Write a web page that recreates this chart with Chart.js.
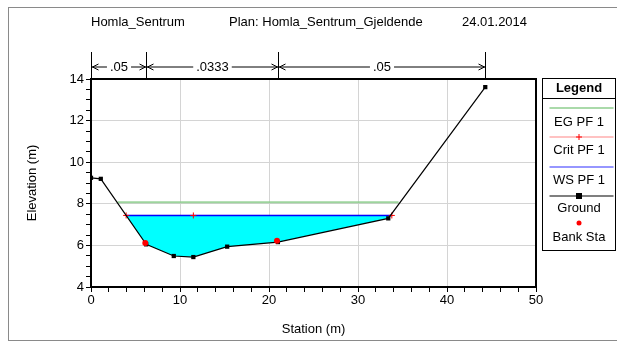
<!DOCTYPE html>
<html>
<head>
<meta charset="UTF-8">
<title>Homla_Sentrum</title>
<script src="https://cdn.jsdelivr.net/npm/chart.js"></script>
<style>
    body { margin: 0; background: #fff; }
</style>
</head>
<body>
<canvas id="chart" width="617" height="343"></canvas>
<script>
// ground profile (station, elevation)
const groundSta = [0, 1.1, 6.2, 9.3, 11.5, 15.3, 21.0, 33.4, 44.3];
const groundElev = [9.25, 9.2, 6.05, 5.49, 5.44, 5.94, 6.16, 7.30, 13.61];
// bank stations
const bankSta = [6.1, 20.9];
const bankElev = [6.12, 6.22];
// water surface, critical depth, energy grade
const wsSta = [3.95, 33.8];
const wsElev = 7.44;
const critSta = [3.95, 11.5, 33.8];
const critElev = 7.44;
const egSta = [2.98, 34.56];
const egElev = 8.08;
// manning's n bar
const nBreaks = [0, 6.2, 21.0, 44.3];
const nValues = ['.05', '.0333', '.05'];
// tick labels
const xLabels = [0, 10, 20, 30, 40, 50];
const yLabels = [4, 6, 8, 10, 12, 14];

const FONT = '"Liberation Sans", Arial, sans-serif';

const pts = (xs, ys) => xs.map((x, i) => ({x: x, y: Array.isArray(ys) ? ys[i] : ys}));

// cyan water polygon: WS line back along the ground
const water = [{x: wsSta[0], y: wsElev}];
groundSta.forEach((s, i) => {
    if (s > wsSta[0] && s < wsSta[1]) water.push({x: s, y: groundElev[i]});
});
water.push({x: wsSta[1], y: wsElev});
water.push({x: wsSta[0], y: wsElev});

function arrow(c, x, y, dir) {
    c.beginPath();
    c.moveTo(x, y);
    c.lineTo(x - dir * 6, y - 3);
    c.moveTo(x, y);
    c.lineTo(x - dir * 6, y + 3);
    c.stroke();
}

const decor = {
    id: 'decor',
    afterDraw(chart) {
        const c = chart.ctx, a = chart.chartArea, sx = chart.scales.x;
        c.save();

        // outer frame
        c.strokeStyle = '#8a8a8a';
        c.lineWidth = 1;
        c.strokeRect(8.5, 7.5, 620, 333);

        // plot border
        c.strokeStyle = '#000';
        c.lineWidth = 2;
        c.strokeRect(a.left, a.top, a.right - a.left, a.bottom - a.top);

        // title
        c.fillStyle = '#000';
        c.font = '13px ' + FONT;
        c.textBaseline = 'middle';
        c.textAlign = 'left';
        c.fillText('Homla_Sentrum', 91, 22);
        c.fillText('Plan: Homla_Sentrum_Gjeldende', 229, 22);
        c.fillText('24.01.2014', 462, 22);

        // axis titles
        c.textAlign = 'center';
        c.fillText('Station (m)', (a.left + a.right) / 2, 329);
        c.save();
        c.translate(32, 183);
        c.rotate(-Math.PI / 2);
        c.fillText('Elevation (m)', 0, 0);
        c.restore();

        // manning's n bar
        c.lineWidth = 1;
        const ny = 67;
        const bx = nBreaks.map(v => Math.round(sx.getPixelForValue(v)) + 0.5);
        bx.forEach(px => {
            c.beginPath();
            c.moveTo(px, 52);
            c.lineTo(px, a.top);
            c.stroke();
        });
        for (let i = 0; i < nValues.length; i++) {
            const l = bx[i], r = bx[i + 1], m = (l + r) / 2;
            const w = c.measureText(nValues[i]).width / 2 + 3;
            c.beginPath();
            c.moveTo(l, ny);
            c.lineTo(m - w, ny);
            c.moveTo(m + w, ny);
            c.lineTo(r, ny);
            c.stroke();
            arrow(c, l + 1, ny, -1);
            arrow(c, r - 1, ny, 1);
            c.fillText(nValues[i], m, ny);
        }

        // legend box
        const lx = 542.5, rx = 615.5, cx = 579;
        c.strokeStyle = '#000';
        c.lineWidth = 1;
        c.strokeRect(lx, 78.5, rx - lx, 172);
        c.beginPath();
        c.moveTo(lx, 98.5);
        c.lineTo(rx, 98.5);
        c.stroke();
        c.font = 'bold 13px ' + FONT;
        c.fillText('Legend', cx, 88);
        c.font = '13px ' + FONT;

        const items = [
            {label: 'EG PF 1', color: 'rgba(130,200,130,0.9)', ly: 108, ty: 122, mark: null},
            {label: 'Crit PF 1', color: 'rgba(255,140,140,0.7)', ly: 137, ty: 150, mark: 'cross'},
            {label: 'WS PF 1', color: 'rgba(100,100,255,0.9)', ly: 167, ty: 180, mark: null},
            {label: 'Ground', color: '#555', ly: 196, ty: 208, mark: 'rect'},
            {label: 'Bank Sta', color: null, ly: 223, ty: 237, mark: 'dot'}
        ];
        items.forEach(it => {
            if (it.color) {
                c.strokeStyle = it.color;
                c.lineWidth = 1.5;
                c.beginPath();
                c.moveTo(lx + 7, it.ly);
                c.lineTo(rx - 2, it.ly);
                c.stroke();
            }
            if (it.mark === 'cross') {
                c.strokeStyle = 'red';
                c.lineWidth = 1;
                c.beginPath();
                c.moveTo(cx - 3, it.ly); c.lineTo(cx + 3, it.ly);
                c.moveTo(cx, it.ly - 3); c.lineTo(cx, it.ly + 3);
                c.stroke();
            } else if (it.mark === 'rect') {
                c.fillStyle = '#000';
                c.fillRect(cx - 3, it.ly - 3, 6, 6);
            } else if (it.mark === 'dot') {
                c.fillStyle = 'red';
                c.beginPath();
                c.arc(cx, it.ly, 2.5, 0, Math.PI * 2);
                c.fill();
            }
            c.fillStyle = '#000';
            c.fillText(it.label, cx, it.ty);
        });

        c.restore();
    }
};

const ctx = document.getElementById('chart').getContext('2d');

new Chart(ctx, {
    type: 'line',
    data: {
        datasets: [
            {
                label: 'Bank Sta',
                data: pts(bankSta, bankElev),
                showLine: false,
                pointStyle: 'circle',
                pointRadius: 3,
                pointBackgroundColor: '#ff0000',
                pointBorderWidth: 0,
                order: 0
            },
            {
                label: 'Ground',
                data: pts(groundSta, groundElev),
                borderColor: '#000',
                borderWidth: 1.2,
                pointStyle: 'rect',
                pointRadius: 3,
                pointBackgroundColor: '#000',
                pointBorderWidth: 0,
                order: 1
            },
            {
                label: 'Crit PF 1 pts',
                data: pts(critSta, critElev),
                showLine: false,
                pointStyle: 'cross',
                pointRadius: 3,
                pointBorderColor: '#ff0000',
                pointBorderWidth: 1,
                order: 2
            },
            {
                label: 'WS PF 1',
                data: pts(wsSta, wsElev),
                borderColor: '#0000ff',
                borderWidth: 1.5,
                pointRadius: 0,
                order: 3
            },
            {
                label: 'Crit PF 1',
                data: pts([critSta[0], critSta[critSta.length - 1]], critElev),
                borderColor: '#ff3030',
                borderWidth: 1,
                pointRadius: 0,
                order: 4
            },
            {
                label: 'EG PF 1',
                data: pts(egSta, egElev),
                borderColor: 'rgba(140,205,140,0.85)',
                borderWidth: 2,
                pointRadius: 0,
                order: 5
            },
            {
                label: 'water',
                data: water,
                borderWidth: 0,
                borderColor: 'rgba(0,0,0,0)',
                backgroundColor: '#00ffff',
                fill: 'shape',
                pointRadius: 0,
                order: 6
            }
        ]
    },
    options: {
        responsive: false,
        animation: false,
        devicePixelRatio: 1,
        layout: { padding: { top: 79, right: 81, left: 0, bottom: 0 } },
        plugins: {
            legend: { display: false },
            tooltip: { enabled: false }
        },
        scales: {
            x: {
                type: 'linear',
                min: 0,
                max: 50,
                afterFit: s => { s.height = 56; },
                ticks: {
                    stepSize: 2,
                    autoSkip: false,
                    maxRotation: 0,
                    padding: 1,
                    color: '#000',
                    font: { family: FONT, size: 13 },
                    callback: v => xLabels.includes(v) ? v : ''
                },
                grid: {
                    color: c => (c.tick && xLabels.includes(c.tick.value)) ? '#d4d4d4' : 'rgba(0,0,0,0)',
                    tickColor: '#000',
                    tickLength: 5
                },
                border: { color: '#000', width: 2 }
            },
            y: {
                min: 4,
                max: 14,
                afterFit: s => { s.width = 91; },
                ticks: {
                    stepSize: 0.5,
                    autoSkip: false,
                    padding: 2,
                    color: '#000',
                    font: { family: FONT, size: 13 },
                    callback: v => yLabels.includes(v) ? v : ''
                },
                grid: {
                    color: c => (c.tick && yLabels.includes(c.tick.value)) ? '#d4d4d4' : 'rgba(0,0,0,0)',
                    tickColor: '#000',
                    tickLength: 5
                },
                border: { color: '#000', width: 2 }
            }
        }
    },
    plugins: [decor]
});
</script>
</body>
</html>
